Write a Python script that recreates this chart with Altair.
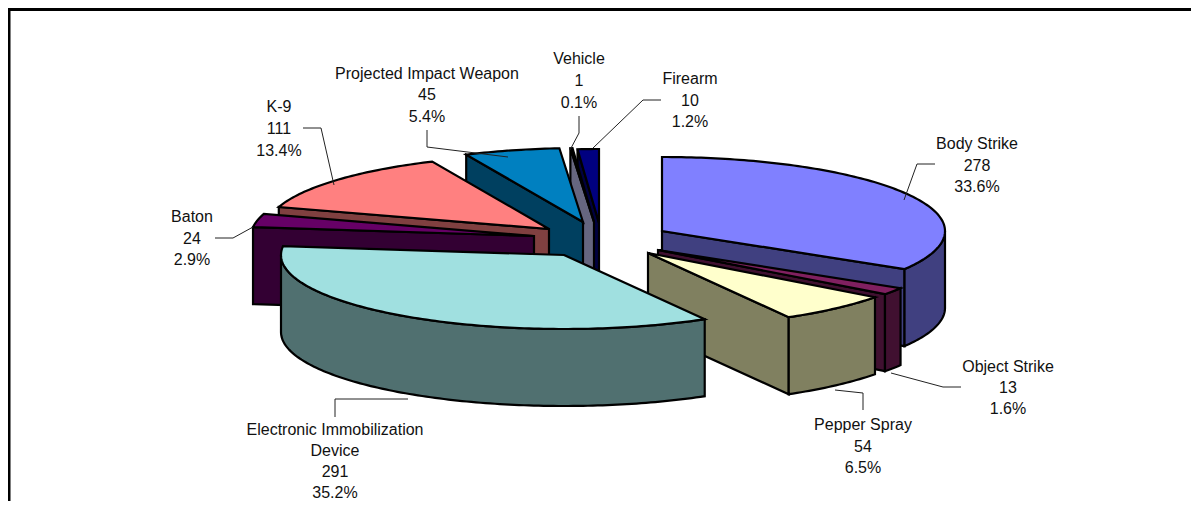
import numpy as np
import pandas as pd
import altair as alt

# --- data
categories = ["Body Strike", "Object Strike", "Pepper Spray",
              "Electronic Immobilization Device", "Baton", "K-9",
              "Projected Impact Weapon", "Vehicle", "Firearm"]
counts = [278, 13, 54, 291, 24, 111, 45, 1, 10]
percents = ["33.6%", "1.6%", "6.5%", "35.2%", "2.9%", "13.4%", "5.4%", "0.1%", "1.2%"]
top_colors = ["#8080FF", "#802060", "#FFFFCC", "#A0E0E0", "#660066",
              "#FF8080", "#0080C0", "#CCCCFF", "#000080"]
side_colors = ["#404080", "#401030", "#808060", "#507070", "#330033",
               "#804040", "#004060", "#666680", "#000040"]

# --- layout (picture pixels); the page margin leaves x 8..1191, y 8..501 drawable
X0, Y0, X1, Y1 = 8, 8, 1191, 501
RX, RY, DEPTH = 283, 74, 77
apex = {"Body Strike": (662, 231), "Object Strike": (658, 250), "Pepper Spray": (648, 253),
        "Electronic Immobilization Device": (564, 255), "Baton": (534, 236), "K-9": (549, 229),
        "Projected Impact Weapon": (583, 222), "Vehicle": (594, 222), "Firearm": (599, 223)}
paint_order = ["Firearm", "Vehicle", "Projected Impact Weapon", "K-9", "Baton",
               "Body Strike", "Object Strike", "Pepper Spray",
               "Electronic Immobilization Device"]
label_pos = {"Body Strike": (977, [144, 166, 187]), "Object Strike": (1008, [367, 388, 409]),
             "Pepper Spray": (863, [425, 447, 468]),
             "Electronic Immobilization Device": (335, [430, 451, 472, 493]),
             "Baton": (192, [217, 239, 260]), "K-9": (279, [107, 129, 151]),
             "Projected Impact Weapon": (427, [74, 95, 117]), "Vehicle": (579, [59, 81, 103]),
             "Firearm": (690, [79, 101, 122])}
leaders = {"Body Strike": [(904, 200), (917, 164), (935, 164)],
           "Object Strike": [(891, 373), (943, 387), (961, 387)],
           "Pepper Spray": [(835, 390), (863, 393), (863, 410)],
           "Electronic Immobilization Device": [(408, 399), (335, 399), (335, 417)],
           "Baton": [(215, 238), (233, 238), (253, 227)],
           "K-9": [(303, 128), (321, 128), (334, 185)],
           "Projected Impact Weapon": [(427, 130), (427, 147), (508, 157)],
           "Vehicle": [(579, 116), (579, 133), (570, 150)],
           "Firearm": [(661, 100), (643, 100), (593, 148)]}
frame = [[(X0, 9.5), (X1, 9.5)], [(9, Y0), (9, Y1)]]

# --- slice geometry follows from the counts
ends = np.cumsum(counts) / np.sum(counts) * 360
starts = np.concatenate([[0], ends[:-1]])
span = {c: (s, e) for c, s, e in zip(categories, starts, ends)}
tops = dict(zip(categories, top_colors))
sides = dict(zip(categories, side_colors))


def rim(cat, a, b):
    cx, cy = apex[cat]
    n = max(2, int(abs(b - a)) + 2)
    t = np.radians(np.linspace(a, b, n))
    return list(zip(cx + RX * np.sin(t), cy - RY * np.cos(t)))


rows = []
pid = 0


def add(points, color):
    global pid
    pid += 1
    for i, (x, y) in enumerate(points):
        rows.append({"piece": f"p{pid:03d}", "i": i, "x": float(x), "y": float(y), "fillc": color})


for cat in paint_order:
    s, e = span[cat]
    c = apex[cat]
    for ang, vis in ((s, np.sin(np.radians(s)) < -1e-6), (e, np.sin(np.radians(e)) > 1e-6)):
        if vis:
            p = rim(cat, ang, ang)[0]
            add([c, p, (p[0], p[1] + DEPTH), (c[0], c[1] + DEPTH)], sides[cat])
    a, b = max(s, 90), min(e, 270)
    if a < b:
        arc = rim(cat, a, b)
        add(arc + [(x, y + DEPTH) for x, y in reversed(arc)], sides[cat])
    add([c] + rim(cat, s, e), tops[cat])

pieces = pd.DataFrame(rows)

lead_df = pd.DataFrame([{"cat": cat, "i": i, "x": x, "y": y}
                        for cat, pts in leaders.items() for i, (x, y) in enumerate(pts)])

text_rows = []
for cat, n, pc in zip(categories, counts, percents):
    cx, ys = label_pos[cat]
    lines = ["Electronic Immobilization", "Device"] if cat.startswith("Electronic") else [cat]
    lines = lines + [str(n), pc]
    for line, y in zip(lines, ys):
        text_rows.append({"x": cx, "y": y, "t": line})
text_df = pd.DataFrame(text_rows)

frame_df = pd.DataFrame([{"k": k, "i": i, "x": p[0], "y": p[1]}
                         for k, seg in enumerate(frame) for i, p in enumerate(seg)])

xs = alt.Scale(domain=[X0, X1], nice=False, zero=False)
ys = alt.Scale(domain=[Y1, Y0], nice=False, zero=False)
X = alt.X("x:Q", scale=xs, axis=None)
Y = alt.Y("y:Q", scale=ys, axis=None)

frame_layer = alt.Chart(frame_df).mark_line(color="black", strokeWidth=3, clip=True).encode(
    x=X, y=Y, detail="k:N", order="i:Q")

pie = alt.Chart(pieces).mark_line(
    stroke="black", strokeWidth=2.2, interpolate="linear-closed", strokeJoin="miter"
).encode(x=X, y=Y, detail="piece:N", order="i:Q",
         fill=alt.Fill("fillc:N", scale=None))

lead = alt.Chart(lead_df).mark_line(color="#222222", strokeWidth=1).encode(
    x=X, y=Y, detail="cat:N", order="i:Q")

labels = alt.Chart(text_df).mark_text(
    font="Liberation Sans", fontSize=16, color="#111111", align="center", baseline="middle"
).encode(x=X, y=Y, text="t:N")

chart = alt.layer(frame_layer, pie, lead, labels).properties(
    width=X1 - X0, height=Y1 - Y0, padding=0, background="white",
    autosize=alt.AutoSizeParams(type="none"),
).configure_view(stroke=None)

chart.save("out.html", embed_options={"renderer": "svg", "actions": False})
